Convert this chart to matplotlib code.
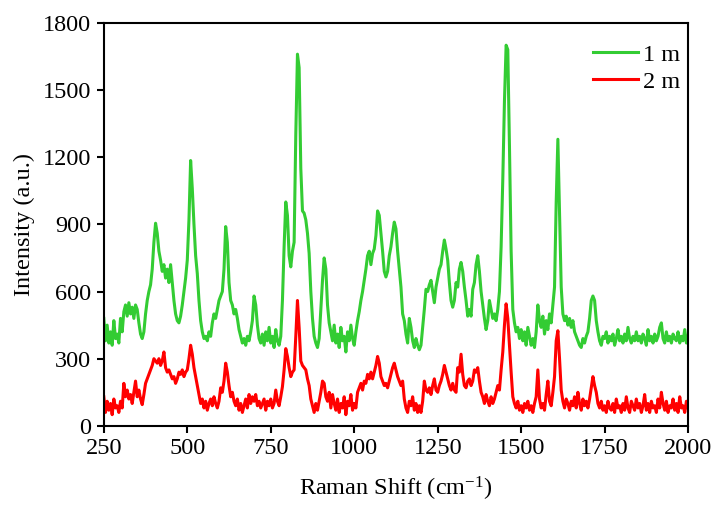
import numpy as np
import matplotlib
matplotlib.use("Agg")
import matplotlib.pyplot as plt

plt.rcParams['font.family'] = ['Liberation Serif', 'DejaVu Serif']
plt.rcParams['mathtext.fontset'] = 'custom'
plt.rcParams['mathtext.rm'] = 'Liberation Serif'
plt.rcParams['mathtext.default'] = 'rm'

# Raman shift grid (cm-1), 5 cm-1 steps from 250 to 2000
shift = np.arange(250, 2001, 5)

# intensities, one row per 50 cm-1
green_1m = [
    480, 380, 450, 370, 420, 360, 470, 390, 410, 370,
    480, 420, 510, 540, 490, 550, 500, 530, 480, 540,
    520, 460, 410, 390, 420, 500, 560, 600, 630, 700,
    820, 905, 860, 780, 740, 690, 720, 660, 700, 640,
    720, 640, 560, 500, 470, 460, 490, 540, 600, 660,
    740, 920, 1185, 1060, 900, 760, 680, 560, 470, 420,
    390, 400, 380, 420, 400, 460, 500, 480, 520, 560,
    580, 600, 700, 890, 820, 640, 560, 540, 500, 520,
    480, 430, 400, 370, 390, 360, 400, 380, 420, 470,
    580, 540, 450, 390, 370, 410, 360, 420, 380, 440,
    370, 400, 350, 430, 380, 360, 400, 560, 800, 1000,
    940, 760, 710, 780, 820, 1300, 1660, 1600, 1150, 960,
    950, 920, 860, 770, 600, 480, 400, 370, 350, 390,
    520, 650, 750, 700, 540, 460, 420, 380, 450, 370,
    410, 350, 440, 380, 400, 330, 420, 380, 450, 390,
    360, 420, 470, 510, 560, 600, 650, 700, 760, 780,
    720, 770, 790, 850, 960, 940, 860, 780, 690, 665,
    690, 760, 800, 860, 910, 880, 780, 700, 620, 500,
    470, 410, 370, 480, 440, 380, 350, 390, 360, 340,
    360, 440, 520, 610, 600, 630, 650, 600, 550, 620,
    660, 700, 720, 780, 830, 790, 740, 640, 560, 530,
    560, 640, 620, 700, 730, 690, 620, 560, 490, 520,
    490, 610, 640, 720, 760, 690, 600, 540, 480, 430,
    470, 560, 520, 480, 500, 470, 520, 600, 800, 1100,
    1450, 1700, 1680, 1250, 780, 520, 460, 420, 440, 390,
    430, 380, 420, 360, 440, 400, 360, 390, 350, 420,
    540, 470, 440, 490, 410, 470, 430, 500, 460, 540,
    620, 1000, 1280, 960, 620, 500, 470, 490, 450, 480,
    440, 470, 420, 400, 380, 360, 350, 390, 370, 400,
    420, 480, 560, 580, 560, 470, 420, 380, 360, 400,
    390, 420, 370, 400, 380, 410, 360, 390, 430, 380,
    400, 370, 410, 380, 440, 390, 370, 400, 380, 420,
    380, 400, 370, 410, 390, 360, 430, 380, 400, 370,
    410, 380, 400, 440, 460, 390, 370, 420, 380, 400,
    370, 410, 390, 380, 420, 370, 400, 380, 430, 370,
    400,
]

red_2m = [
    130, 60, 110, 70, 100, 50, 120, 80, 90, 60,
    110, 80, 190, 130, 160, 120, 140, 100, 150, 200,
    130, 160, 120, 95, 140, 190, 210, 230, 250, 270,
    300, 290, 280, 300, 270, 290, 330, 260, 240, 250,
    230, 210, 220, 190, 210, 240, 230, 250, 220, 240,
    250, 300, 360, 320, 260, 220, 180, 140, 100, 120,
    80, 110, 70, 100, 120, 90, 130, 100, 80, 110,
    170, 150, 200, 280, 240, 180, 130, 150, 110, 90,
    120, 70, 100, 60, 90, 120, 80, 140, 100, 130,
    110, 140, 90, 110, 80, 100, 120, 70, 110, 90,
    120, 80, 100, 160, 110, 90, 130, 175, 250, 345,
    310, 260, 220, 240, 250, 400, 560, 440, 290, 270,
    260, 250, 210, 180, 120, 90, 60, 100, 70, 110,
    150, 200, 190, 130, 110, 150, 80, 140, 100, 70,
    120, 60, 100, 80, 130, 50, 110, 90, 140, 70,
    100, 80, 150, 170, 190, 160, 200, 190, 230, 210,
    240, 210, 240, 270, 310, 280, 220, 200, 180, 190,
    170, 200, 230, 260, 280, 250, 220, 200, 180, 200,
    120, 80, 60, 110, 90, 130, 70, 100, 60, 90,
    60, 110, 200, 160, 150, 170, 140, 180, 210, 160,
    150, 180, 200, 230, 270, 240, 210, 180, 160, 190,
    160, 150, 260, 240, 320, 230, 180, 170, 200, 210,
    180, 200, 250, 240, 260, 200, 150, 130, 100, 140,
    110, 90, 130, 100, 120, 150, 180, 160, 250, 330,
    450, 545, 480, 360, 240, 130, 100, 80, 110, 70,
    90, 60, 100, 80, 110, 70, 90, 60, 100, 130,
    250, 120, 80, 100, 70, 140, 200, 110, 90, 150,
    220, 380, 425, 300, 160, 110, 80, 120, 100, 70,
    110, 90, 130, 80, 150, 100, 70, 120, 90, 110,
    80, 120, 170, 220, 180, 150, 100, 80, 110, 70,
    90, 60, 110, 80, 70, 100, 60, 120, 80, 90,
    60, 100, 70, 130, 80, 60, 110, 90, 70, 120,
    80, 100, 60, 90, 140, 70, 100, 60, 110, 80,
    90, 60, 120, 80, 150, 100, 70, 110, 60, 90,
    80, 120, 70, 100, 60, 130, 80, 90, 60, 110,
    80,
]

x_ticks = [250, 500, 750, 1000, 1250, 1500, 1750, 2000]
y_ticks = [0, 300, 600, 900, 1200, 1500, 1800]

fig = plt.figure(figsize=(7.16, 5.07), dpi=100)
ax = fig.add_axes([0.145, 0.160, 0.816, 0.795])

ax.plot(shift, green_1m, color='#33cc33', lw=2.2, label='1 m')
ax.plot(shift, red_2m, color='#ff0000', lw=2.2, label='2 m')

ax.set_xlim(250, 2000)
ax.set_ylim(0, 1800)
ax.set_xticks(x_ticks)
ax.set_yticks(y_ticks)
ax.tick_params(direction='out', length=5, width=1.5, labelsize=17.5, pad=4)
for sp in ax.spines.values():
    sp.set_linewidth(1.5)

ax.set_xlabel('Raman Shift (cm$^{-1}$)', fontsize=17.5, labelpad=11)
ax.set_ylabel('Intensity (a.u.)', fontsize=17.5, labelpad=6)

ax.legend(loc='upper right', bbox_to_anchor=(1.003, 0.972), frameon=False,
          fontsize=17.5, handlelength=1.85, handletextpad=0.2,
          labelspacing=0.2, borderaxespad=0)

fig.savefig('out.png', dpi=100)
